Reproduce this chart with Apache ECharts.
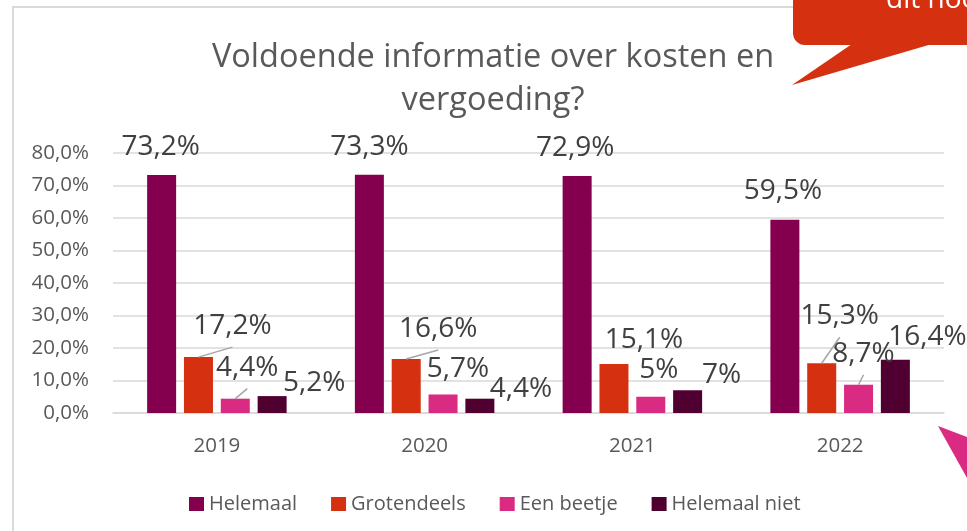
<!DOCTYPE html>
<html>
<head>
<meta charset="utf-8">
<script src="https://cdn.jsdelivr.net/npm/echarts@6/dist/echarts.min.js"></script>
<style>html,body{margin:0;padding:0;background:#fff}#c{width:967px;height:531px}</style>
</head>
<body>
<div id="c"></div>
<script>
const categories = ['2019', '2020', '2021', '2022'];
const seriesNames = ['Helemaal', 'Grotendeels', 'Een beetje', 'Helemaal niet'];
const helemaal = [73.2, 73.3, 72.9, 59.5];
const grotendeels = [17.2, 16.6, 15.1, 15.3];
const eenBeetje = [4.4, 5.7, 5.0, 8.7];
const helemaalNiet = [5.2, 4.4, 7.0, 16.4];
const yTicks = [0, 10, 20, 30, 40, 50, 60, 70, 80];

const colors = ['#84004F', '#D5300F', '#DA2B83', '#4F0030'];
// label offsets (dx, dy) per series / category
const offs = [
  [[-1,-9],[0,-9],[-2,-9],[-2,-10]],
  [[34,-12],[32,-11],[30,-5],[18,-28]],
  [[12,-12],[15,-6],[8,-8],[5,-12]],
  [[42,6],[41,9],[34,4],[32,-4]]
];
const leaders = [
  [false, false, false, false],
  [true, true, false, true],
  [true, false, false, true],
  [false, false, false, false]
];
const fmt = v => String(v).replace('.', ',') + '%';
const values = [helemaal, grotendeels, eenBeetje, helemaalNiet];
const font = '"Open Sans", "Noto Sans", sans-serif';
const BAR_W = 29, BAR_GAP = 0.27;

const leaderData = [];
values.forEach((arr, si) => arr.forEach((v, ci) => { if (leaders[si][ci]) leaderData.push([ci, v, si]); }));

const chart = echarts.init(document.getElementById('c'));
chart.setOption({
  animation: false,
  textStyle: { fontFamily: font },
  title: {
    text: 'Voldoende informatie over kosten en\nvergoeding?',
    left: 488, textAlign: 'center', top: 31,
    textStyle: { fontSize: 32.5, fontWeight: 'normal', color: '#595959', lineHeight: 43, fontFamily: font }
  },
  legend: {
    data: seriesNames, left: 184, top: 489, icon: 'rect', itemWidth: 15, itemHeight: 14, itemGap: 34,
    textStyle: { fontSize: 20, color: '#595959', fontFamily: font }
  },
  grid: { left: 113, right: 23, top: 153, bottom: 118, containLabel: false },
  xAxis: {
    type: 'category', data: categories,
    axisLine: { lineStyle: { color: '#d9d9d9', width: 1.5 } },
    axisTick: { show: false },
    axisLabel: { fontSize: 20.5, color: '#595959', margin: 23, fontFamily: font }
  },
  yAxis: {
    type: 'value', min: yTicks[0], max: yTicks[yTicks.length - 1], interval: 10,
    axisLine: { show: false }, axisTick: { show: false },
    splitLine: { lineStyle: { color: '#d9d9d9', width: 1.5 } },
    axisLabel: { fontSize: 20.5, color: '#595959', margin: 24, fontFamily: font,
      formatter: v => v.toFixed(1).replace('.', ',') + '%' }
  },
  series: seriesNames.map((name, si) => ({
    name, type: 'bar', barWidth: BAR_W, barGap: (BAR_GAP * 100) + '%',
    data: values[si],
    itemStyle: { color: colors[si] },
    label: { show: true, position: 'top', distance: 5, fontSize: 28, color: '#404040', fontFamily: font,
      formatter: p => fmt(p.value) },
    labelLayout: p => ({ dx: offs[si][p.dataIndex][0], dy: offs[si][p.dataIndex][1] })
  })).concat([{
    type: 'custom', silent: true, z: 5, data: leaderData,
    renderItem: (params, api) => {
      const ci = api.value(0), v = api.value(1), si = api.value(2);
      const p = api.coord([ci, v]);
      const x0 = p[0] + (si - 1.5) * BAR_W * (1 + BAR_GAP);
      const o = offs[si][ci];
      return { type: 'line', shape: { x1: x0, y1: p[1], x2: x0 + o[0], y2: p[1] + o[1] + 2 },
        style: { stroke: '#a6a6a6', lineWidth: 1.5 } };
    }
  }]),
  graphic: [
    { type: 'rect', shape: { x: 13, y: 7, width: 1000, height: 600 }, style: { fill: 'none', stroke: '#d9d9d9', lineWidth: 2 }, z: -1 },
    { type: 'rect', shape: { x: 793, y: -30, width: 220, height: 75, r: 12 }, style: { fill: '#D5300F' }, z: 10 },
    { type: 'polygon', shape: { points: [[852, 44], [792, 85], [932, 44]] }, style: { fill: '#D5300F' }, z: 10 },
    { type: 'text', x: 886, y: 14, style: { text: 'dit hoo', fill: '#fff', fontSize: 28, fontFamily: font, verticalAlign: 'bottom' }, z: 11 },
    { type: 'polygon', shape: { points: [[938, 426], [967, 437], [967, 478]] }, style: { fill: '#DA2B83' }, z: 10 }
  ]
});
</script>
</body>
</html>
